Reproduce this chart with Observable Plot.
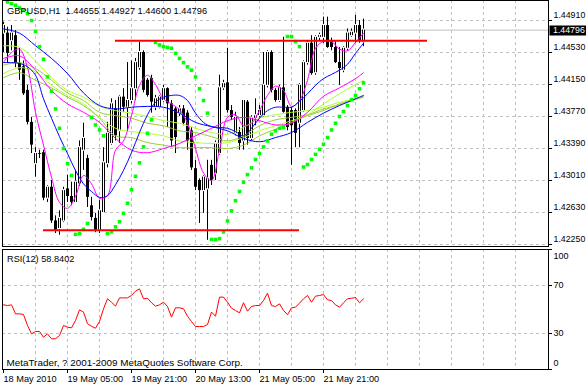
<!DOCTYPE html>
<html><head><meta charset="utf-8">
<script src="https://cdn.jsdelivr.net/npm/d3@7"></script>
<script src="https://cdn.jsdelivr.net/npm/@observablehq/plot@0.6"></script>
<style>
body{margin:0;background:#fff;}
#chart{width:586px;height:386px;overflow:hidden;background:#fff;}
#chart svg{display:block;}
</style></head><body><div id="chart"></div>
<script>
// ---------- DATA (GBPUSD H1) ----------
const openP = [1.4476,1.4476,1.4467,1.4473,1.4440,1.4436,1.4408,1.4370,1.4321,1.4333,
1.4334,1.4280,1.4293,1.4253,1.4244,1.4253,1.4291,1.4282,1.4275,1.4297,
1.4337,1.4327,1.4271,1.4256,1.4242,1.4263,1.4321,1.4345,1.4386,1.4360,
1.4400,1.4388,1.4396,1.4410,1.4435,1.4453,1.4420,1.4422,1.4388,1.4388,
1.4396,1.4410,1.4392,1.4386,1.4381,1.4386,1.4381,1.4360,1.4315,1.4301,
1.4289,1.4291,1.4319,1.4309,1.4333,1.4411,1.4417,1.4384,1.4357,1.4358,
1.4348,1.4394,1.4351,1.4375,1.4378,1.4378,1.4414,1.4453,1.4408,1.4396,
1.4411,1.4388,1.4384,1.4384,1.4369,1.4384,1.4441,1.4464,1.4429,1.4471,
1.4471,1.4485,1.4467,1.4459,1.4441,1.4432,1.4458,1.4473,1.4476,1.4485,
1.44655];
const highP = [1.4489,1.4483,1.4485,1.4479,1.4458,1.4443,1.4414,1.4376,1.4340,1.4337,
1.4337,1.4295,1.4301,1.4259,1.4265,1.4293,1.4307,1.4299,1.4313,1.4348,
1.4369,1.4331,1.4281,1.4262,1.4277,1.4340,1.4370,1.4398,1.4396,1.4402,
1.4410,1.4441,1.4443,1.4446,1.4465,1.4455,1.4422,1.4426,1.4402,1.4402,
1.4414,1.4411,1.4396,1.4388,1.4390,1.4390,1.4384,1.4364,1.4325,1.4303,
1.4307,1.4325,1.4325,1.4348,1.4426,1.4420,1.4458,1.4390,1.4382,1.4364,
1.4396,1.4396,1.4378,1.4398,1.4390,1.4453,1.4455,1.4455,1.4410,1.4414,
1.4471,1.4390,1.4388,1.4386,1.4416,1.4443,1.4467,1.4473,1.4473,1.4476,
1.4495,1.4495,1.4470,1.4467,1.4459,1.4460,1.4481,1.4481,1.4497,1.4491,
1.44927];
const lowP = [1.4453,1.4440,1.4455,1.4435,1.4420,1.4402,1.4367,1.4333,1.4305,1.4327,
1.4277,1.4275,1.4250,1.4238,1.4236,1.4251,1.4275,1.4271,1.4274,1.4294,
1.4313,1.4269,1.4253,1.4239,1.4238,1.4262,1.4316,1.4343,1.4348,1.4345,
1.4382,1.4360,1.4392,1.4396,1.4432,1.4405,1.4400,1.4381,1.4384,1.4386,
1.4394,1.4364,1.4340,1.4333,1.4377,1.4366,1.4337,1.4313,1.4289,1.4250,
1.4262,1.4230,1.4295,1.4301,1.4331,1.4408,1.4381,1.4372,1.4354,1.4337,
1.4337,1.4343,1.4348,1.4366,1.4375,1.4376,1.4411,1.4405,1.4394,1.4394,
1.4381,1.4360,1.4319,1.4340,1.4340,1.4382,1.4438,1.4426,1.4426,1.4467,
1.4464,1.4458,1.4455,1.4440,1.4414,1.4429,1.4455,1.4471,1.4464,1.4464,
1.44600];
const closeP = [1.4485,1.4452,1.4476,1.4440,1.4432,1.4404,1.4370,1.4343,1.4333,1.4332,
1.4280,1.4293,1.4253,1.4242,1.4256,1.4289,1.4282,1.4275,1.4299,1.4340,
1.4351,1.4281,1.4257,1.4242,1.4265,1.4322,1.4357,1.4392,1.4354,1.4400,
1.4388,1.4396,1.4410,1.4441,1.4453,1.4408,1.4402,1.4394,1.4398,1.4400,
1.4410,1.4392,1.4348,1.4352,1.4386,1.4369,1.4348,1.4316,1.4293,1.4289,
1.4305,1.4303,1.4301,1.4345,1.4411,1.4416,1.4384,1.4376,1.4376,1.4345,
1.4396,1.4351,1.4375,1.4378,1.4384,1.4414,1.4453,1.4408,1.4396,1.4411,
1.4382,1.4364,1.4366,1.4357,1.4414,1.4441,1.4464,1.4428,1.4471,1.4473,
1.4485,1.4459,1.4459,1.4441,1.4434,1.4458,1.4476,1.4477,1.4485,1.4467,
1.44796];

// Parabolic SAR (null = no dot visible)
const sarP = [null,1.4513,1.4511,1.4509,1.4506,1.4503,1.4499,1.4491,1.4478,1.4460,
1.4445,1.4424,1.4407,1.4386,1.4363,1.4339,1.4321,1.4307,1.4237,1.4238,
1.4243,1.4250,1.4376,1.4367,1.4361,1.4354,1.4238,1.4240,1.4246,1.4252,
1.4262,1.4274,1.4290,1.4306,1.4322,1.4341,1.4357,1.4373,1.4465,1.4462,
1.4460,1.4459,1.4458,1.4452,1.4446,1.4441,1.4436,1.4432,1.4424,1.4410,
1.4396,1.4381,1.4231,1.4231,1.4232,1.4240,1.4253,1.4265,1.4277,1.4288,
1.4299,1.4308,1.4316,1.4326,1.4333,1.4341,1.4348,1.4356,1.4360,1.4363,
1.4364,1.4472,1.4472,1.4466,1.4460,1.4317,1.4320,1.4326,1.4332,1.4338,
1.4344,1.4352,1.4361,1.4369,1.4377,1.4383,1.4390,1.4397,1.4402,1.4410,
1.4417];

// RSI(12)
const rsiV = [53.9,53.3,53.9,46.4,46.4,45.8,36.7,29.7,31.7,31.7,
26.9,29.7,25.6,25.6,28.3,36.7,35.3,34.7,40.8,49.7,
47.8,38.1,36.1,34.4,40.0,50.6,58.9,56.1,52.8,59.7,
59.7,59.7,61.7,65.3,67.2,58.9,59.4,55.6,52.8,53.9,
56.1,52.5,43.6,51.4,51.4,50.6,44.4,40.0,35.8,35.8,
35.8,37.5,47.8,44.4,60.3,60.3,56.1,51.1,49.2,47.2,
55.6,48.6,52.5,53.3,53.3,57.5,63.6,53.3,52.5,54.7,
49.2,45.6,51.4,51.9,55.3,58.9,61.7,56.1,61.1,61.7,
62.5,58.1,57.5,53.9,51.9,55.6,58.9,59.4,60.0,55.6,
58.84];

// moving averages read at sample bars
const maIdx = [0,4,8,12,16,20,24,28,32,36,40,44,48,52,56,60,64,68,72,76,80,84,88,90];
const fastIdx = [0,2,4,6,8,10,12,14,16,18,20,22,24,26,28,30,32,34,36,38,40,42,44,46,48,50,52,54,56,58,60,62,64,66,68,70,72,74,76,78,80,82,84,86,88,90];
const blueSlow = [1.4481,1.4476,1.4461,1.4446,1.4428,1.4405,1.4390,1.4386,1.4388,1.4389,1.4388,1.4381,1.4370,1.4365,1.4360,1.4351,1.4347,1.4352,1.4358,1.4370,1.4381,1.4390,1.4398,1.4402];
const blueFast = [1.4441,1.4441,1.4440,1.4436,1.4426,1.4398,1.4375,1.4353,1.4333,1.4313,
1.4297,1.4288,1.4281,1.4283,1.4296,1.4313,1.4334,1.4358,1.4379,1.4394,
1.4400,1.4402,1.4402,1.4396,1.4381,1.4370,1.4365,1.4364,1.4363,1.4359,
1.4354,1.4363,1.4375,1.4384,1.4388,1.4388,1.4388,1.4395,1.4404,1.4414,
1.4422,1.4427,1.4432,1.4439,1.4452,1.4464];
const magentaSlow = [1.4446,1.4449,1.4432,1.4408,1.4392,1.4382,1.4370,1.4351,1.4337,1.4334,1.4339,1.4345,1.4354,1.4363,1.4372,1.4376,1.4372,1.4367,1.4369,1.4382,1.4401,1.4411,1.4422,1.4429];
const magentaFast = [1.4441,1.4453,1.4457,1.4435,1.4382,1.4343,1.4305,1.4275,1.4268,1.4282,
1.4307,1.4297,1.4280,1.4283,1.4337,1.4348,1.4378,1.4414,1.4426,1.4415,
1.4398,1.4392,1.4385,1.4369,1.4339,1.4310,1.4301,1.4337,1.4376,1.4379,
1.4366,1.4369,1.4384,1.4402,1.4413,1.4408,1.4389,1.4396,1.4420,1.4458,
1.4466,1.4466,1.4457,1.4455,1.4465,1.4476];
const green1 = [1.4461,1.4459,1.4443,1.4423,1.4408,1.4400,1.4389,1.4384,1.4381,1.4377,1.4372,1.4369,1.4363,1.4358,1.4356,1.4364,1.4375,1.4379,1.4382,1.4384,1.4388,1.4394,1.4398,1.4401];
const green2 = [1.4438,1.4441,1.4434,1.4420,1.4405,1.4396,1.4382,1.4378,1.4375,1.4369,1.4366,1.4360,1.4358,1.4353,1.4348,1.4354,1.4366,1.4373,1.4376,1.4379,1.4386,1.4391,1.4397,1.4400];
const green3 = [1.4428,1.4435,1.4430,1.4414,1.4402,1.4392,1.4376,1.4363,1.4359,1.4357,1.4354,1.4348,1.4346,1.4345,1.4346,1.4352,1.4360,1.4366,1.4372,1.4379,1.4392,1.4404,1.4415,1.4420];
const green4 = [1.4423,1.4429,1.4420,1.4411,1.4400,1.4390,1.4375,1.4354,1.4352,1.4346,1.4343,1.4340,1.4340,1.4340,1.4339,1.4343,1.4354,1.4362,1.4370,1.4378,1.4384,1.4392,1.4398,1.4400];

// trend lines (bar from, bar to, price)
const trendFrom = [28, 10];
const trendTo = [106, 74];
const trendPrice = [1.4467, 1.4242];

const bidPrice = 1.44796;
const priceTicks = [1.4225,1.4263,1.4301,1.4339,1.4377,1.4415,1.4453,1.4491];
const gridBars = [8,16,24,32,40,48,56,64,72,80,88,96,104,112,120,128];
const timeBars = [0,16,32,48,64,80];
const timeLabels = ["18 May 2010","19 May 05:00","19 May 21:00","20 May 13:00","21 May 05:00","21 May 21:00"];
const rsiLevels = [0,30,70,100];
const rsiGridLevels = [30,70];
const titleText = "GBPUSD,H1\u00a0 1.44655 1.44927 1.44600 1.44796";
const rsiTitle = "RSI(12) 58.8402";
const copyright = "MetaTrader, ? 2001-2009 MetaQuotes Software Corp.";

// ---------- BUILD ----------
const FONT = "'Liberation Sans', Arial, sans-serif";
const GRID = "#c0c0c0";
const bars = openP.map((o, i) => ({i, o, h: highP[i], l: lowP[i], c: closeP[i]}));
const series = (idx, vals) => idx.map((i, k) => ({i, v: vals[k]}));
const sarPts = sarP.map((v, i) => ({i, v})).filter(d => d.v != null);
const trend = trendPrice.map((p, k) => ({p, a: trendFrom[k], b: trendTo[k]}));
const rsiPts = rsiV.map((v, i) => ({i, v}));
const fmt5 = d3.format(".5f");
const gridStyle = {stroke: GRID, strokeOpacity: 1, strokeDasharray: "3,3"};

function priceBox(index, scales, values, dimensions) {
  const y = scales.y(bidPrice);
  const x0 = dimensions.width - dimensions.marginRight + 1.5;
  const g = d3.create("svg:g");
  g.append("rect").attr("x", x0).attr("y", Math.round(y) - 4.5).attr("width", dimensions.marginRight).attr("height", 10).attr("fill", "black");
  g.append("text").attr("x", x0 + 3.5).attr("y", y).attr("dy", "0.34em").attr("text-anchor", "start")
    .attr("fill", "white").attr("font-size", 8.8).attr("font-family", FONT).text(fmt5(bidPrice));
  return g.node();
}

const greens = [[green1, "#adff2f"], [green2, "#9acd32"], [green3, "#adff2f"], [green4, "#9acd32"]];
const lineOpts = (col) => ({x: "i", y: "v", stroke: col, strokeWidth: 1, curve: "catmull-rom"});

const main = Plot.plot({
  width: 586, height: 248,
  marginLeft: 2, marginRight: 38, marginTop: 0, marginBottom: 2,
  x: {type: "linear", domain: [0, 136], range: [3, 547], axis: null},
  y: {type: "linear", domain: [1.4225, 1.4491], range: [244, 20]},
  style: {fontFamily: FONT, fontSize: "9.5px", color: "black", background: "white", overflow: "visible"},
  marks: [
    Plot.gridX(gridBars, gridStyle),
    Plot.gridY(priceTicks, gridStyle),
    Plot.ruleY([bidPrice], {stroke: "#c0c0c0"}),
    Plot.ruleX(bars, {x: "i", y1: "l", y2: "h", stroke: "black"}),
    Plot.ruleX(bars, {x: "i", y1: "o", y2: "c", stroke: "black", strokeWidth: 3}),
    Plot.ruleX(bars.filter(b => b.c > b.o), {x: "i", y1: "o", y2: "c", stroke: "white", strokeWidth: 1, insetTop: 1, insetBottom: 1}),
    ...greens.map(([vals, col]) => Plot.line(series(maIdx, vals), lineOpts(col))),
    Plot.line(series(maIdx, magentaSlow), lineOpts("#ff00ff")),
    Plot.line(series(fastIdx, magentaFast), lineOpts("#ff00ff")),
    Plot.line(series(maIdx, blueSlow), lineOpts("#0000ff")),
    Plot.line(series(fastIdx, blueFast), lineOpts("#0000ff")),
    Plot.dot(sarPts, {x: "i", y: "v", symbol: "square", r: 2, fill: "#00ff00", stroke: "none"}),
    Plot.ruleY(trend, {y: "p", x1: "a", x2: "b", stroke: "#ff0000", strokeWidth: 2}),
    Plot.frame({stroke: "black"}),
    Plot.axisY(priceTicks, {anchor: "right", tickSize: 3, fill: "none", label: null}),
    Plot.axisY(priceTicks, {anchor: "right", tickSize: 0, tickPadding: 5, dy: -5, tickFormat: fmt5, fontSize: 8.8, label: null}),
    priceBox,
    Plot.text([titleText], {text: d => d, frameAnchor: "top-left", textAnchor: "start", dx: 4.5, dy: 7.2, fontSize: 9.25, fill: "black"})
  ]
});

const rsi = Plot.plot({
  width: 586, height: 138,
  marginLeft: 2, marginRight: 38, marginTop: 1, marginBottom: 17,
  x: {type: "linear", domain: [0, 136], range: [3, 547]},
  y: {type: "linear", domain: [0, 100], range: [121, 1]},
  style: {fontFamily: FONT, fontSize: "9.5px", color: "black", background: "white", overflow: "visible"},
  marks: [
    Plot.gridX(gridBars, gridStyle),
    Plot.gridY(rsiGridLevels, gridStyle),
    Plot.line(rsiPts, {x: "i", y: "v", stroke: "#ff0000", strokeWidth: 1}),
    Plot.frame({stroke: "black"}),
    Plot.axisY(rsiLevels, {anchor: "right", tickSize: 3, fill: "none", label: null}),
    Plot.axisY([100], {anchor: "right", tickSize: 0, tickPadding: 5, dy: 6.3, fontSize: 9, label: null}),
    Plot.axisY([70, 30], {anchor: "right", tickSize: 0, tickPadding: 5, fontSize: 9, label: null}),
    Plot.axisY([0], {anchor: "right", tickSize: 0, tickPadding: 5, dy: -6.5, fontSize: 9, label: null}),
    Plot.axisX(timeBars, {anchor: "bottom", tickSize: 4, tickPadding: 2, textAnchor: "start", tickFormat: d => timeLabels[timeBars.indexOf(d)], fontSize: 9.2, label: null}),
    Plot.text([rsiTitle], {text: d => d, frameAnchor: "top-left", textAnchor: "start", dx: 4.5, dy: 6.3, fontSize: 9.2, fill: "black"}),
    Plot.text([copyright], {text: d => d, frameAnchor: "top-left", textAnchor: "start", dx: 4, dy: 109.3, fontSize: 9.9, fill: "black"})
  ]
});

document.getElementById("chart").append(main, rsi);
</script>
</body></html>
